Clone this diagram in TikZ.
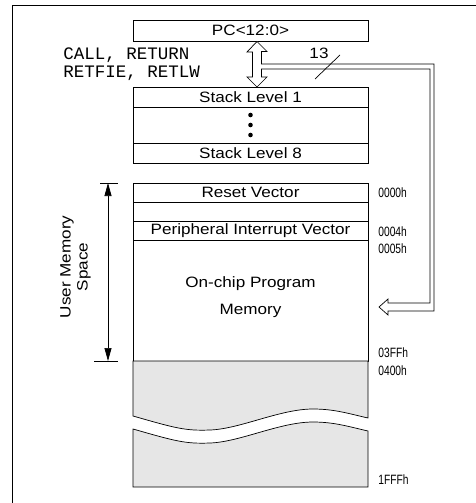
\documentclass[tikz,border=0pt]{standalone}
\usepackage{fontspec}
\setmainfont{Liberation Sans}[FakeStretch=1.14]
\setmonofont{Liberation Mono}
\newfontfamily\addrfont{Liberation Sans}[FakeStretch=0.76]
\usetikzlibrary{arrows.meta, positioning, calc}
\definecolor{romgray}{RGB}{230,230,230}

\tikzset{
  cell/.style={draw, minimum width=235pt, inner sep=0pt, outer sep=0pt, font=\fontsize{15}{17}\selectfont},
  addr/.style={anchor=west, inner sep=0pt, font=\addrfont\fontsize{13.5}{15}\selectfont},
  bus/.style={draw, fill=white, line join=miter},
  dim/.style={{Triangle[length=13pt,width=7pt]}-{Triangle[length=13pt,width=7pt]}},
}

\begin{document}
\begin{tikzpicture}[x=1pt, y=-1pt, line width=0.7pt]
  \useasboundingbox (0,0) rectangle (476,503);
  % Frame
  \draw (476,5) -- (12,5) -- (12,503);

  % Program counter and stack
  \node[cell, minimum height=21pt] (pc) at (250.5,30.5) {PC<12:0>};
  \node[cell, minimum height=20pt] (stk1) at (250.5,97) {Stack Level 1};
  \node[cell, minimum height=36pt, below=0pt of stk1] (stkdots) {};
  \node[cell, minimum height=20pt, below=0pt of stkdots] (stk8) {Stack Level 8};
  \foreach \dy in {-10,0,10}
    \fill ($(stkdots.center)+(0,\dy)$) circle (2.3pt);

  \node[anchor=west, inner sep=0pt, align=left, font=\ttfamily\fontsize{17.5}{18}\selectfont] (calls) at (63,64) {CALL, RETURN\\RETFIE, RETLW};

  % Program memory map
  \node[cell, minimum height=19pt] (rst) at (250.5,192.5) {Reset Vector};
  \node[cell, minimum height=19pt, below=0pt of rst] (blank) {};
  \node[cell, minimum height=19pt, below=0pt of blank] (piv) {Peripheral Interrupt Vector};
  \node[cell, minimum height=121pt, below=0pt of piv] (onchip) {};
  \node[align=center, inner sep=0pt, font=\fontsize{15}{27}\selectfont] (onchiptxt) at ($(onchip.center)+(0,-3)$) {On-chip Program\\Memory};

  % Unimplemented area with break
  \draw[fill=romgray] (onchip.south west) -- (133,416) .. controls (175,428) and (185,431) .. (210,430)
    .. controls (240,429) and (280,409) .. (313,409) .. controls (335,409) and (350,414) .. (368,418)
    -- (onchip.south east) -- cycle;
  \draw[fill=romgray] (133,429) .. controls (175,441) and (185,444) .. (210,443)
    .. controls (240,442) and (280,422) .. (313,422) .. controls (335,422) and (350,427) .. (368,431)
    -- (368,487) -- (133,487) -- cycle;

  % Addresses
  \node[addr] (a0000) at (378,193) {0000h};
  \node[addr] (a0004) at (378,232) {0004h};
  \node[addr] (a0005) at (378,249) {0005h};
  \node[addr] (a03ff) at (378,353) {03FFh};
  \node[addr] (a0400) at (378,371) {0400h};
  \node[addr] (a1fff) at (378,480) {1FFFh};

  % User memory space
  \coordinate (dimx) at (108,0);
  \draw (100,0 |- rst.north) -- (118,0 |- rst.north);
  \draw (94,0 |- onchip.south) -- (118,0 |- onchip.south);
  \draw[dim] (dimx |- rst.north) -- (dimx |- onchip.south);
  \node[rotate=90, align=center, inner sep=0pt, font=\fontsize{15}{17}\selectfont] (ums) at (75.5,267) {User Memory\\Space};

  % 13-bit bus
  \coordinate (top) at (257,41.5);
  \coordinate (bot) at (257,87);
  \coordinate (busNE) at (434,64);
  \coordinate (tip) at (379,307);
  \draw[bus] (top) -- ++(10,10) -- ++(-5.5,0) |- (busNE) |- ($(tip)+(9,4)$) -- ++(0,4) -- (tip)
    -- ++(9,-8) -- ++(0,4) -| ($(busNE)+(-4,5)$) -- ($(bot)+(4.5,-18)$) -- ++(0,8) -- ++(5.5,0)
    -- (bot) -- ++(-10,-10) -- ++(5.5,0) -- ++(0,-25) -- ++(-5.5,0) -- cycle;
  \draw (315,79) -- (340,55);
  \node[inner sep=0pt, font=\fontsize{15}{17}\selectfont] (width) at (319,53) {13};
\end{tikzpicture}
\end{document}
